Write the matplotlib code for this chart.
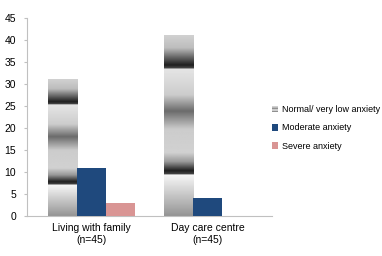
import numpy as np
import matplotlib
matplotlib.use('Agg')
import matplotlib.pyplot as plt
from matplotlib.patches import Patch

plt.rcParams['font.family'] = ['Liberation Sans', 'DejaVu Sans']

categories = ['Living with family\n(n=45)', 'Day care centre\n(n=45)']
series_names = ['Normal/ very low anxiety', 'Moderate anxiety', 'Severe anxiety']
normal = [31, 41]
moderate = [11, 4]
severe = [3, 0]
yticks = [0, 5, 10, 15, 20, 25, 30, 35, 40, 45]

blue = '#1f497d'
pink = '#d99594'
axis_col = '#c0c0c0'

# vertical gray profile of the "metallic" fill, as fraction of bar height
prof_f = [0.0, 0.228, 0.229, 0.25, 0.30, 0.35, 0.48, 0.58, 0.67, 0.816, 0.817, 0.835, 0.93, 1.0]
prof_v = [0.58, 0.97, 0.30, 0.12, 0.60, 0.82, 0.80, 0.42, 0.80, 0.90, 0.30, 0.12, 0.74, 0.82]
grid = np.linspace(0, 1, 400)
shade = np.interp(grid, prof_f, prof_v)[:, None]

fig = plt.figure(figsize=(3.82, 2.56), dpi=100)
ax = fig.add_axes([27/382, 40/256, 245/382, 198/256])

x = np.arange(len(categories))
w = 0.25
bars = ax.bar(x - w, normal, w, color='none', edgecolor='none')
for b in bars:
	x0, h = b.get_x(), b.get_height()
	ax.imshow(shade, cmap='gray', vmin=0, vmax=1, origin='lower', aspect='auto',
		extent=(x0, x0 + w, 0, h), interpolation='bilinear', zorder=2)
ax.bar(x, moderate, w, color=blue, zorder=3)
ax.bar(x + w, severe, w, color=pink, zorder=3)

ax.set_xlim(-0.556, 1.556)
ax.set_ylim(0, 45)
ax.set_yticks(yticks)
ax.set_xticks(x)
ax.set_xticklabels(categories, fontsize=7.5)
ax.tick_params(axis='y', labelsize=7.5, length=2, color=axis_col, pad=6)
ax.tick_params(axis='x', length=0, pad=5)
for s in ['top', 'right']:
	ax.spines[s].set_visible(False)
for s in ['left', 'bottom']:
	ax.spines[s].set_color(axis_col)
	ax.spines[s].set_linewidth(0.8)

handles = [
	Patch(facecolor='#d0d0d0', edgecolor='#909090', hatch='-----', linewidth=0),
	Patch(facecolor=blue, edgecolor='none'),
	Patch(facecolor=pink, edgecolor='none'),
]
fig.legend(handles, series_names, loc='center left', bbox_to_anchor=(264/382, 1 - 128/256),
	frameon=False, fontsize=6.5, handlelength=0.7, handleheight=0.7, handletextpad=0.4,
	labelspacing=1.0)

fig.savefig('out.png', dpi=100)
